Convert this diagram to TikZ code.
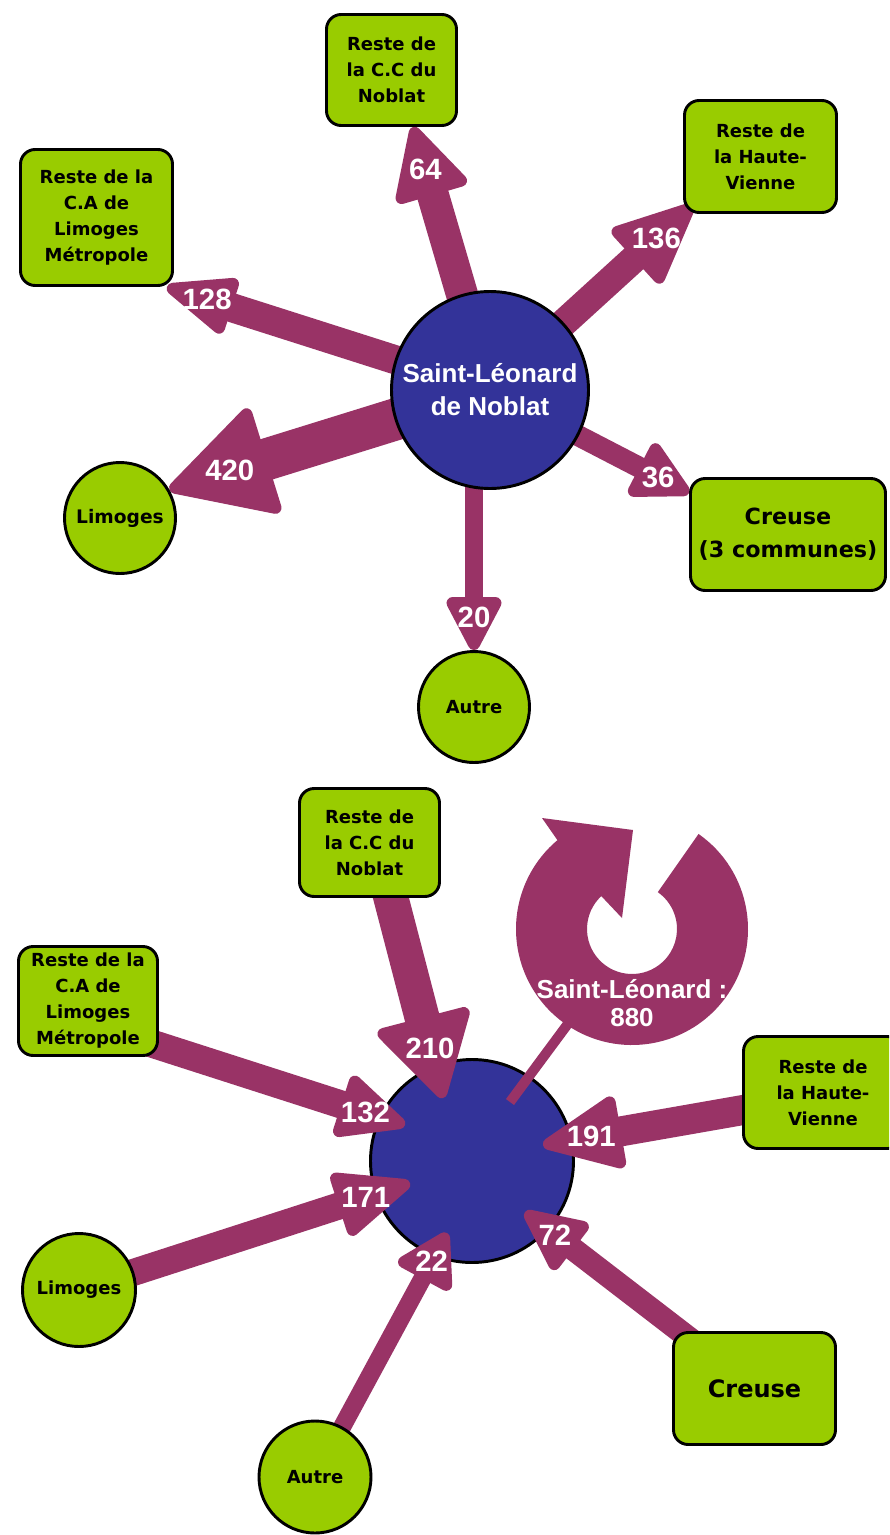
\documentclass[tikz,border=0pt]{standalone}
\usepackage{fontspec}
\setmainfont{Liberation Sans}
\newfontfamily\labf{DejaVu Sans}
\usetikzlibrary{calc}
\definecolor{cplum}{HTML}{993366}
\definecolor{cnavy}{HTML}{333399}
\definecolor{cgreen}{HTML}{99CC00}
\pgfdeclarelayer{bg}
\pgfdeclarelayer{mid}
\pgfsetlayers{bg,mid,main}
% #1 start, #2 tip, #3 half shaft width, #4 half head width, #5 head length, #6 label
\newcommand\flowarrow[6]{%
  \path let \p1=($(#2)-(#1)$) in \pgfextra{%
    \pgfmathsetmacro\tmpang{atan2(\y1,\x1)}\xdef\fang{\tmpang}%
    \pgfmathsetmacro\tmplen{veclen(\x1,\y1)/0.75}\xdef\flen{\tmplen}};
  \begin{scope}[shift={(#2)},rotate=\fang]
    \fill[cplum] (-\flen,-#3) -- ({-#5+4},-#3) -- ({-#5+4},#3) -- (-\flen,#3) -- cycle;
    \filldraw[flowc,line width=9pt,line join=round] (-6,0) -- ({-#5+6},{#4-6}) -- ({-#5+6},{-#4+6}) -- cycle;
    \node[numlab] at ({-0.62*#5},0) {#6};
  \end{scope}}
\begin{document}
\begin{tikzpicture}[x=0.75pt,y=-0.75pt,
  greenbox/.style={draw=black, line width=2.2pt, fill=cgreen, rounded corners=11pt, align=center, inner sep=0pt, font=\labf\bfseries\fontsize{13.5}{19.5}\selectfont},
  greencirc/.style={circle, draw=black, line width=2.2pt, fill=cgreen, inner sep=0pt, font=\labf\bfseries\fontsize{13.5}{19.5}\selectfont},
  hub/.style={circle, draw=black, line width=2.2pt, fill=cnavy, inner sep=0pt, text=white, align=center, font=\bfseries\fontsize{19.5}{24.75}\selectfont},
  wh/.style 2 args={minimum width=#1*0.75pt, minimum height=#2*0.75pt},
  dia/.style={minimum size=#1*0.75pt},
  flowc/.style={fill=cplum, draw=cplum},
  numlab/.style={text=white, inner sep=0pt, font=\bfseries\fontsize{22}{24}\selectfont},
  looplabel/.style={text=white, align=center, inner sep=0pt, font=\bfseries\fontsize{19.5}{21}\selectfont},
  pointer/.style={draw=cplum, line width=7.5pt}
]
\begin{pgfonlayer}{bg}
\fill[white] (0,0) rectangle (889,1535);
\end{pgfonlayer}
\useasboundingbox (0,0) rectangle (889,1535);
\clip (0,0) rectangle (889,1535);

% ---------- top diagram ----------
\node[hub, dia=197] (c) at (490,390) {Saint-Léonard\\de Noblat};
\node[greenbox, wh={130}{111}] (cc) at (391.5,70) {Reste de\\la C.C du\\Noblat};
\node[greenbox, wh={152}{136}] (ca) at (96.5,217.5) {Reste de la\\C.A de\\Limoges\\Métropole};
\node[greenbox, wh={152}{112}] (hv) at (760.5,156.5) {Reste de\\la Haute-\\Vienne};
\node[greencirc, dia=111, font=\labf\bfseries\fontsize{14}{16}\selectfont] (lim) at (120,518) {Limoges};
\node[greencirc, dia=111] (aut) at (474,707) {Autre};
\node[greenbox, wh={195}{112}, font=\labf\bfseries\fontsize{16.7}{24.75}\selectfont] (cr) at (788,534.5) {Creuse\\(3 communes)};

\coordinate (t64) at ($(cc.south)+(21.5,0)$);
\coordinate (t128) at ($(ca.south east)+(-7,0)$);
\coordinate (t136) at ($(hv.south west)+(10,-9)$);
\coordinate (t420) at (lim.30);
\coordinate (t36) at ($(cr.north west)+(0,16)$);
\coordinate (s20) at (aut.north |- c.center);
\coordinate (t20) at (aut.north);

% ---------- bottom diagram ----------
\begin{pgfonlayer}{bg}
\node[hub, dia=203] (c2) at (472,1161) {};
\end{pgfonlayer}
\node[greenbox, wh={140}{108}] (cc2) at (369.5,842.5) {Reste de\\la C.C du\\Noblat};
\node[greenbox, wh={139}{109}] (ca2) at (88,1001) {Reste de la\\C.A de\\Limoges\\Métropole};
\node[greenbox, wh={159}{112}] (hv2) at (823,1092.5) {Reste de\\la Haute-\\Vienne};
\node[greenbox, wh={162}{112}, font=\labf\bfseries\fontsize{18}{22}\selectfont] (cr2) at (754.5,1388.5) {Creuse};
\node[greencirc, dia=113] (lim2) at (79,1290) {Limoges};
\node[greencirc, dia=112] (aut2) at (315,1477) {Autre};

\coordinate (s210) at ($(cc2.center)+(7,0)$);
\coordinate (t210) at ($(c2.center)+(-29,-63)$);
\coordinate (s132) at ($(ca2.center)+(62,42)$);
\coordinate (t132) at ($(c2.center)+(-67,-36)$);
\coordinate (s191) at ($(hv2.center)+(-23,7.5)$);
\coordinate (t191) at ($(c2.center)+(71,-16)$);
\coordinate (t171) at ($(c2.center)+(-62,22)$);
\coordinate (t22) at ($(c2.center)+(-25,72)$);
\coordinate (t72) at ($(c2.center)+(53,51)$);
\coordinate (ring) at ($(c2.center)+(160,-232)$);
\coordinate (pA) at ($(ring)+(-62,92)$);
\coordinate (pB) at ($(c2.center)+(38,-59)$);
\node[looplabel] (looplab) at ($(ring)+(0,74)$) {Saint-Léonard :\\880};

\begin{pgfonlayer}{mid}
% top arrows
\flowarrow{c}{t64}{16}{37}{71}{64}
\flowarrow{c}{t128}{14.5}{29}{68}{128}
\flowarrow{c}{t136}{14}{37}{80}{136}
\flowarrow{c}{t420}{21}{55}{102}{420}
\flowarrow{c}{t36}{10.5}{29.5}{56}{36}
\flowarrow{s20}{t20}{9}{27.5}{53}{20}
% bottom arrows
\flowarrow{s210}{t210}{17.5}{47.5}{83}{210}
\flowarrow{s132}{t132}{14}{32}{67}{132}
\flowarrow{s191}{t191}{15}{36.5}{79}{191}
\flowarrow{lim2}{t171}{13.5}{33}{75}{171}
\flowarrow{aut2}{t22}{9}{30}{52}{22}
\flowarrow{cr2}{t72}{11.5}{29.5}{61}{72}
% self loop
\fill[cplum] ($(ring)+(-55:116)$) arc[start angle=-55, end angle=230, radius=116]
  -- ($(ring)+(-90,-111)$) -- ($(ring)+(1,-99)$) -- ($(ring)+(-10,-11)$)
  -- ($(ring)+(227:45)$) arc[start angle=227, end angle=-55, radius=45] -- cycle;
\draw[pointer] (pA) -- (pB);
\end{pgfonlayer}
\end{tikzpicture}
\end{document}
